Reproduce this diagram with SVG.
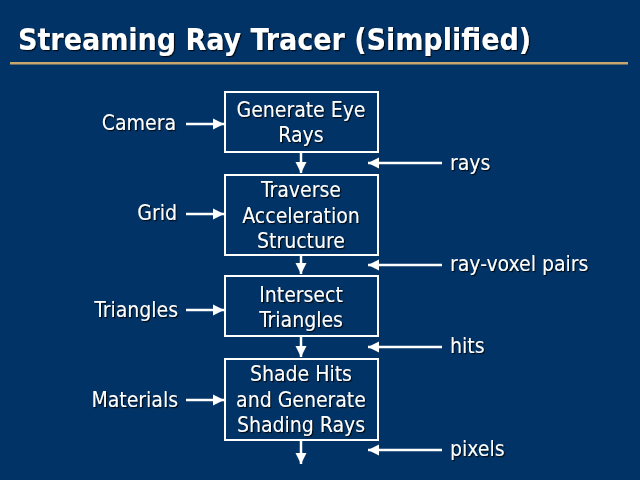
<svg xmlns="http://www.w3.org/2000/svg" width="640" height="480" viewBox="0 0 640 480">
<defs>
<style>
.t{font-family:"DejaVu Sans Condensed","DejaVu Sans",sans-serif;font-size:21px;fill:#fff;filter:url(#sh)}
.c{text-anchor:middle}
.e{text-anchor:end}
.box{fill:none;stroke:#fff;stroke-width:2}
.ln{stroke:#fff;stroke-width:2.5;fill:none;marker-end:url(#ah)}
</style>
<filter id="sh" x="-10%" y="-20%" width="130%" height="160%">
<feDropShadow dx="1.2" dy="1.2" stdDeviation="0.4" flood-color="#000" flood-opacity="0.8"/>
</filter>
<marker id="ah" viewBox="0 0 10 10" refX="10" refY="5" markerWidth="4.4" markerHeight="4.8" orient="auto" markerUnits="strokeWidth">
<path d="M0,0 L10,5 L0,10 z" fill="#fff"/>
</marker>
</defs>
<rect width="640" height="480" fill="#023366"/>
<text x="18" y="50" style="font-family:'DejaVu Sans Condensed','DejaVu Sans',sans-serif;font-weight:bold;font-size:30px;fill:#fff;filter:url(#sh)">Streaming Ray Tracer (Simplified)</text>
<rect x="10" y="62" width="618" height="2.5" fill="#c9a66b"/>

<g id="connectors">
<line class="ln" x1="301" y1="152" x2="301" y2="173"/>
<line class="ln" x1="301" y1="256" x2="301" y2="274"/>
<line class="ln" x1="301" y1="337" x2="301" y2="357"/>
<line class="ln" x1="301" y1="441" x2="301" y2="464"/>
<line class="ln" x1="186" y1="124" x2="224" y2="124"/>
<line class="ln" x1="186" y1="214" x2="224" y2="214"/>
<line class="ln" x1="186" y1="310" x2="224" y2="310"/>
<line class="ln" x1="186" y1="400" x2="224" y2="400"/>
<line class="ln" x1="442" y1="163" x2="368" y2="163"/>
<line class="ln" x1="442" y1="265" x2="368" y2="265"/>
<line class="ln" x1="442" y1="347" x2="368" y2="347"/>
<line class="ln" x1="442" y1="450" x2="368" y2="450"/>
</g>

<g id="gen">
<rect class="box" x="225" y="92" width="153" height="60"/>
<text class="t c" x="301" y="117">Generate Eye</text>
<text class="t c" x="301" y="142">Rays</text>
</g>
<g id="trav">
<rect class="box" x="225" y="175" width="153" height="80"/>
<text class="t c" x="301" y="197">Traverse</text>
<text class="t c" x="301" y="223">Acceleration</text>
<text class="t c" x="301" y="248">Structure</text>
</g>
<g id="isect">
<rect class="box" x="225" y="276" width="153" height="60"/>
<text class="t c" x="301" y="302">Intersect</text>
<text class="t c" x="301" y="327">Triangles</text>
</g>
<g id="shade">
<rect class="box" x="225" y="359" width="153" height="81"/>
<text class="t c" x="301" y="381">Shade Hits</text>
<text class="t c" x="301" y="407">and Generate</text>
<text class="t c" x="301" y="432">Shading Rays</text>
</g>

<g id="camera"><text class="t e" x="176" y="130">Camera</text></g>
<g id="grid"><text class="t e" x="177" y="220">Grid</text></g>
<g id="triangles"><text class="t e" x="178" y="317">Triangles</text></g>
<g id="materials"><text class="t e" x="178" y="407">Materials</text></g>
<g id="rays"><text class="t" x="450" y="170">rays</text></g>
<g id="rvp"><text class="t" x="450" y="271">ray-voxel pairs</text></g>
<g id="hits"><text class="t" x="450" y="353">hits</text></g>
<g id="pixels"><text class="t" x="450" y="456">pixels</text></g>
</svg>
